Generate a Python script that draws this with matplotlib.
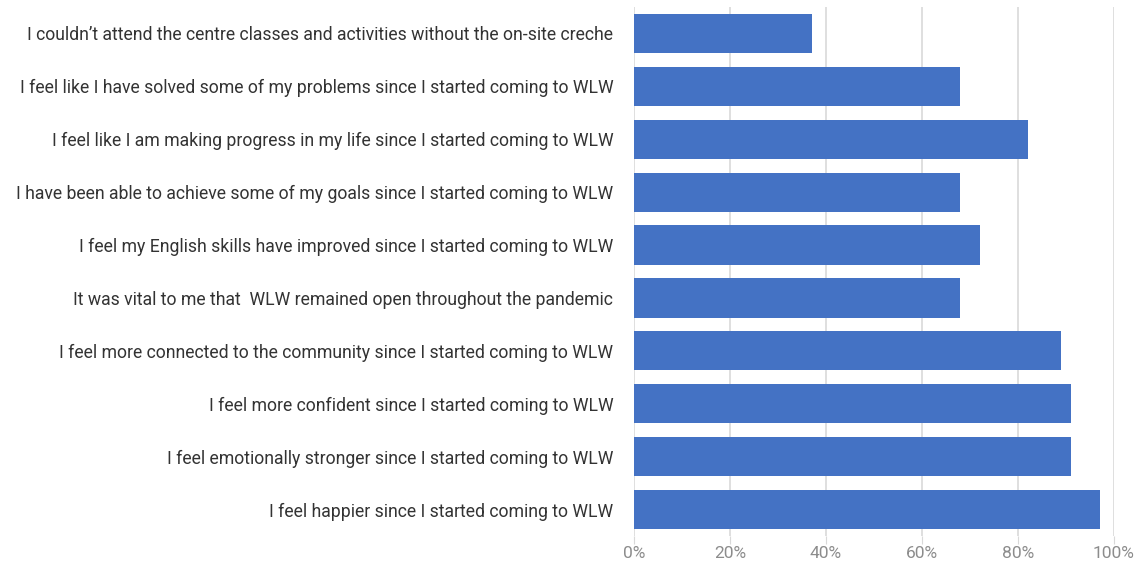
import matplotlib.pyplot as plt
from matplotlib.ticker import PercentFormatter

statements = [
    "I couldn\u2019t attend the centre classes and activities without the on-site creche",
    "I feel like I have solved some of my problems since I started coming to WLW",
    "I feel like I am making progress in my life since I started coming to WLW",
    "I have been able to achieve some of my goals since I started coming to WLW",
    "I feel my English skills have improved since I started coming to WLW",
    "It was vital to me that  WLW remained open throughout the pandemic",
    "I feel more connected to the community since I started coming to WLW",
    "I feel more confident since I started coming to WLW",
    "I feel emotionally stronger since I started coming to WLW",
    "I feel happier since I started coming to WLW",
]
agree = [0.37, 0.68, 0.82, 0.68, 0.72, 0.68, 0.89, 0.91, 0.91, 0.97]
xticks = [0, 0.2, 0.4, 0.6, 0.8, 1.0]

fig = plt.figure(figsize=(11.44, 5.61), dpi=100)
ax = fig.add_axes([634/1144, 1 - 536/561, (1114 - 634)/1144, 529/561])

ypos = list(range(len(statements)))[::-1]
ax.barh(ypos, agree, height=0.74, color="#4472C4", zorder=3)

ax.set_xlim(0, 1)
ax.set_ylim(-0.5, len(statements) - 0.5)
ax.set_xticks(xticks)
ax.xaxis.set_major_formatter(PercentFormatter(1.0, decimals=0))
ax.grid(axis="x", color="#d9d9d9", linewidth=1.2, zorder=0)
for s in ax.spines.values():
    s.set_visible(False)

ax.set_yticks(ypos)
ax.set_yticklabels(statements, family="Roboto", fontsize=12.7, color="#333333")
ax.tick_params(axis="y", length=0, pad=15)
ax.tick_params(axis="x", length=6, color="#d9d9d9", labelsize=12.5, labelcolor="#8c8c8c", pad=1)
for t in ax.get_xticklabels():
    t.set_family("Roboto")

fig.savefig("out.png", dpi=100)
